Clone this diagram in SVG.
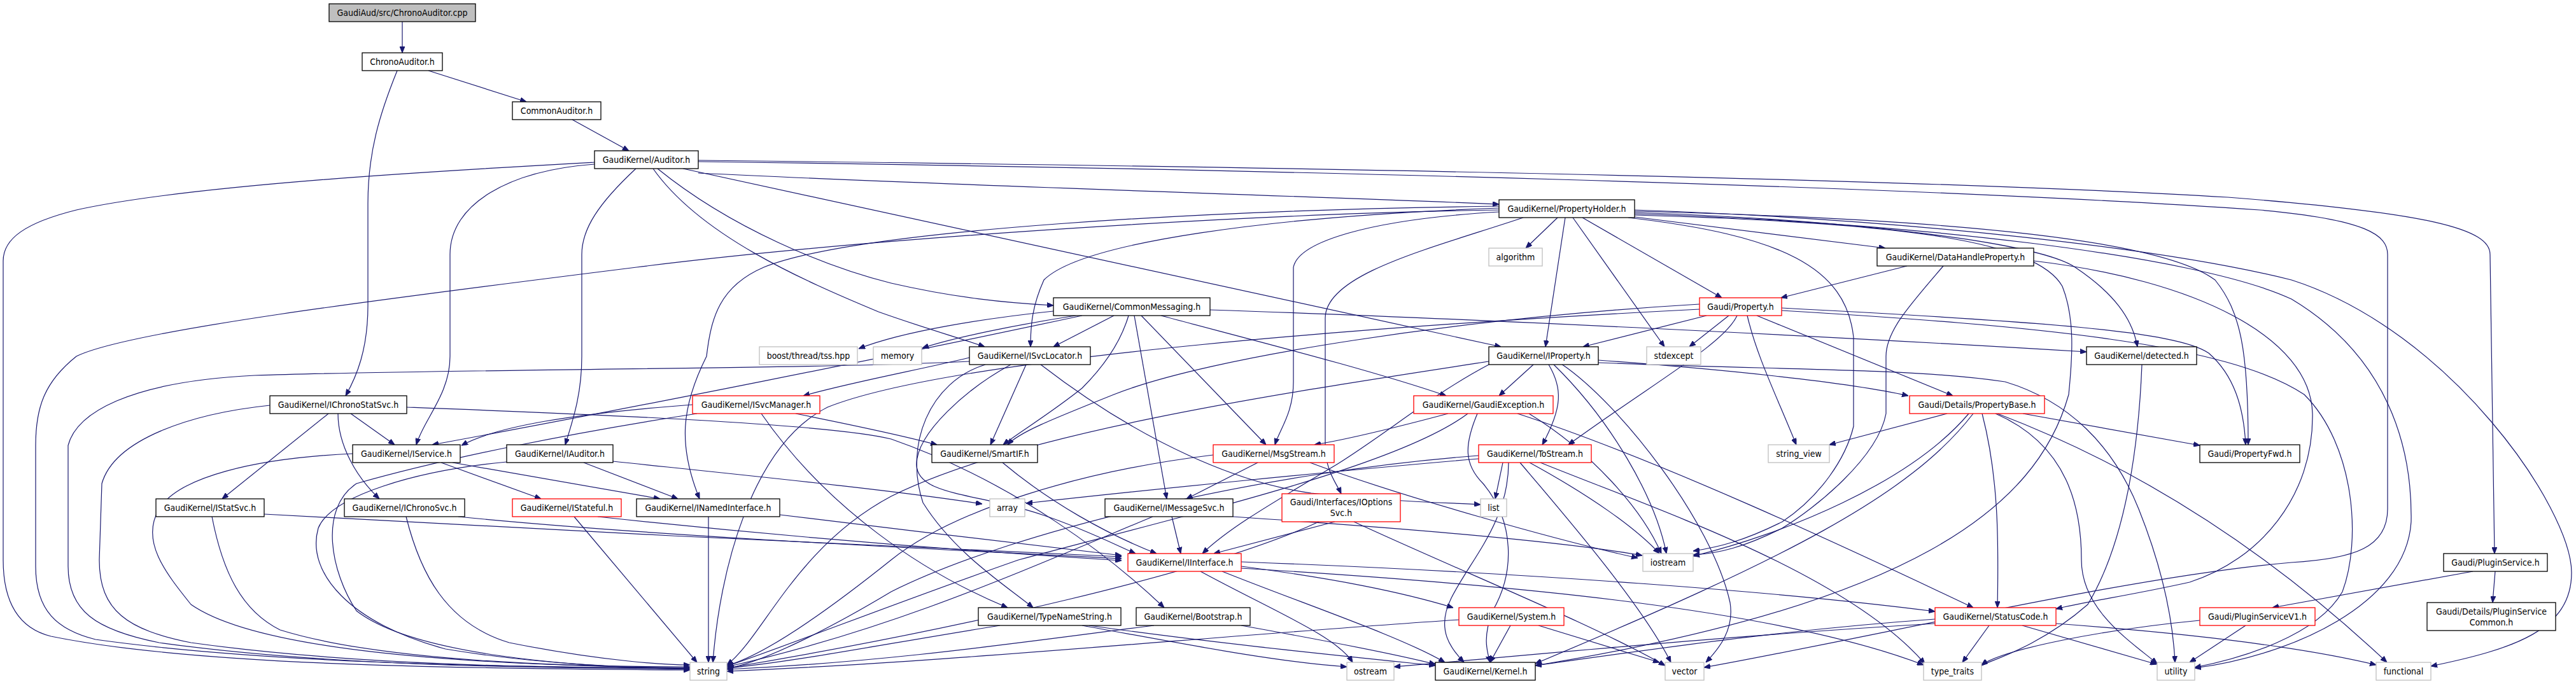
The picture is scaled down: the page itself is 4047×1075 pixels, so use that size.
<svg xmlns="http://www.w3.org/2000/svg" width="4047" height="1075" viewBox="0 0 4047 1075">
<style>
.n rect{fill:#fff;stroke:#000;stroke-width:1.3}
.r rect{fill:#fff;stroke:#ff0000;stroke-width:1.3}
.g rect{fill:#fff;stroke:#bfbfbf;stroke-width:1.3}
.f rect{fill:#bfbfbf;stroke:#000;stroke-width:1.3}
text{font-family:"DejaVu Sans Condensed","DejaVu Sans",sans-serif;font-size:14px;fill:#000;text-anchor:middle}
#edges path{fill:none;stroke:#191970;stroke-width:1.2;marker-end:url(#a)}
</style>
<defs>
<marker id="a" viewBox="0 0 10 8" refX="10" refY="4" markerWidth="10" markerHeight="8" markerUnits="userSpaceOnUse" orient="auto"><path d="M0,0 L10,4 L0,8 z" fill="#191970" stroke="#191970"/></marker>
</defs>
<rect width="4047" height="1075" fill="#fff"/>
<g id="edges">
<path d="M632,34 L632,83"/>
<path d="M673,111 L827,160"/>
<path d="M624,111 C596,180 578,240 578,320 L578,480 C578,550 560,592 543,622"/>
<path d="M899,188 L988,237"/>
<path d="M934,255 C700,268 300,290 120,330 C40,350 5,375 5,410 L5,880 C5,960 40,990 80,1000 C300,1045 700,1051 1084,1053"/>
<path d="M934,258 C800,268 707,320 707,400 L707,560 C707,620 665,660 654,699"/>
<path d="M999,265 C940,320 914,360 914,400 L914,560 C914,620 900,660 888,699"/>
<path d="M1026,265 C1100,370 1260,440 1380,490 C1450,515 1510,532 1547,545"/>
<path d="M1033,265 C1150,360 1300,420 1400,445 C1500,468 1580,476 1655,480"/>
<path d="M1073,265 L2358,545"/>
<path d="M1097,272 C1500,292 2000,306 2355,321"/>
<path d="M1097,252 C2000,262 3000,280 3500,310 C3820,335 3912,360 3912,400 L3919,870"/>
<path d="M1097,254 C2000,266 3000,292 3550,330 C3720,345 3751,370 3751,400 L3751,800 C3751,860 3700,878 3600,884 C3350,905 2950,1000 2677,1049"/>
<path d="M2355,330 C2000,335 1400,370 1000,420 C600,470 200,520 120,560 C70,600 56,640 56,700 L56,890 C56,960 90,990 150,1005 C400,1040 750,1049 1084,1050"/>
<path d="M2447,342 L2397,390"/>
<path d="M2459,342 L2428,545"/>
<path d="M2471,342 L2615,545"/>
<path d="M2486,342 L2705,468"/>
<path d="M2393,342 C2250,390 2082,430 2082,500 L2082,700 C2082,740 2100,760 2107,776"/>
<path d="M2568,341 L2962,390"/>
<path d="M2568,334 C2900,345 3200,380 3260,420 C3320,460 3350,500 3358,545"/>
<path d="M2568,330 C3000,345 3400,390 3600,440 C3850,520 4040,800 4040,900 C4040,990 3950,1020 3819,1047"/>
<path d="M2355,327 C2000,340 1700,380 1640,440 C1622,480 1619,510 1619,545"/>
<path d="M2355,333 C2150,345 2040,380 2032,420 L2032,600 C2032,650 2010,675 2003,699"/>
<path d="M2355,324 C1900,330 1350,360 1200,420 C1130,450 1117,500 1110,560 C1070,640 1065,700 1099,784"/>
<path d="M2568,332 C3100,345 3400,380 3480,440 C3520,490 3532,550 3532,699"/>
<path d="M2568,336 C3000,350 3450,400 3600,470 C3750,560 3790,700 3788,820 C3780,950 3600,1030 3448,1050"/>
<path d="M2558,342 C2800,370 2900,420 2912,530 L2912,670 C2900,720 2860,780 2800,820 C2740,850 2700,860 2660,866"/>
<path d="M2568,338 C3000,350 3200,380 3240,450 C3260,500 3256,560 3250,620 C3200,800 3000,950 2412,1046"/>
<path d="M2996,418 L2798,468"/>
<path d="M3053,418 C3000,480 2963,520 2963,560 L2963,650 C2950,720 2850,800 2800,830 C2740,860 2700,870 2660,872"/>
<path d="M3195,410 C3450,440 3630,530 3633,650 C3635,780 3550,880 3440,915 C3350,935 3280,945 3230,957"/>
<path d="M2670,478 C2300,500 1900,560 1750,620 C1650,660 1600,680 1583,699"/>
<path d="M2716,496 L2654,545"/>
<path d="M2681,496 L2487,545"/>
<path d="M2729,496 C2709,540 2600,600 2464,699"/>
<path d="M2745,496 C2760,560 2790,620 2822,699"/>
<path d="M2760,496 L3068,622"/>
<path d="M2799,484 C3200,505 3420,520 3470,555 C3510,590 3525,640 3528,699"/>
<path d="M2799,488 C3200,512 3500,540 3620,620 C3700,700 3710,850 3680,930 C3640,1000 3520,1035 3448,1049"/>
<path d="M2670,486 C2200,510 1500,560 1300,640 C1180,700 1130,900 1120,1041"/>
<path d="M1655,489 C1550,500 1420,520 1349,548"/>
<path d="M1690,496 C1600,510 1500,530 1449,547"/>
<path d="M1750,496 L1655,545"/>
<path d="M1773,496 C1760,540 1730,580 1700,610 C1650,650 1600,680 1576,699"/>
<path d="M1782,496 L1833,784"/>
<path d="M1793,496 L1989,699"/>
<path d="M1824,496 C1950,530 2150,580 2272,622"/>
<path d="M1901,487 C2300,500 2900,530 3278,553"/>
<path d="M1700,496 C1400,560 1000,640 679,699"/>
<path d="M1612,573 L1556,699"/>
<path d="M1588,573 C1520,610 1440,680 1440,730 C1440,780 1540,775 1640,810 C1700,830 1750,855 1784,870"/>
<path d="M1548,573 C1460,600 1420,700 1450,790 C1500,870 1580,920 1623,955"/>
<path d="M1635,573 C1800,700 1950,760 2060,775 C2200,790 2280,790 2326,793"/>
<path d="M1523,568 C1300,580 700,580 400,590 C200,600 120,650 107,700 L107,890 C107,960 150,990 250,1010 C500,1045 800,1050 1084,1051"/>
<path d="M1523,562 C1450,580 1340,600 1262,622"/>
<path d="M2409,573 L2355,622"/>
<path d="M2433,573 C2455,610 2455,640 2423,699"/>
<path d="M2441,573 C2530,660 2600,780 2618,870"/>
<path d="M2453,572 C2545,634 2690,820 2718,947 C2725,990 2700,1020 2680,1041"/>
<path d="M2339,573 C2250,620 2180,680 2100,730 C2000,790 1930,830 1889,870"/>
<path d="M2511,570 C2800,582 3000,578 3150,600 C3250,630 3320,700 3360,800 C3400,900 3414,980 3417,1041"/>
<path d="M2339,568 C2000,620 1600,680 1400,780 C1250,860 1200,1000 1142,1045"/>
<path d="M2511,566 C2700,580 2900,600 2998,622"/>
<path d="M424,637 C300,650 180,690 160,760 L156,880 C156,960 200,990 300,1010 C550,1045 850,1050 1084,1050"/>
<path d="M516,650 L349,784"/>
<path d="M531,650 C531,700 560,750 596,784"/>
<path d="M551,650 L620,699"/>
<path d="M639,640 C900,650 1300,665 1400,690 C1600,760 1750,880 1829,955"/>
<path d="M1088,636 C900,650 780,670 725,700"/>
<path d="M1095,650 C900,680 700,720 560,760 C500,800 520,900 560,960 C650,1030 900,1048 1084,1052"/>
<path d="M1250,650 C1350,670 1420,685 1472,699"/>
<path d="M1196,650 C1300,800 1450,900 1583,955"/>
<path d="M554,713 C400,720 280,750 250,800 C220,850 260,900 300,950 C400,1020 700,1045 1084,1050"/>
<path d="M693,727 L850,784"/>
<path d="M711,727 L1037,784"/>
<path d="M917,727 L1065,784"/>
<path d="M963,725 C1200,750 1400,770 1543,792"/>
<path d="M796,726 C650,740 520,780 500,830 C480,900 550,980 700,1020 C850,1045 1000,1050 1084,1050"/>
<path d="M333,812 C350,900 380,960 440,990 C600,1040 900,1048 1084,1048"/>
<path d="M415,808 C800,830 1400,860 1762,875"/>
<path d="M638,812 C660,900 700,980 800,1010 C950,1040 1050,1045 1084,1045"/>
<path d="M720,812 C1000,840 1400,860 1762,878"/>
<path d="M902,812 L1095,1041"/>
<path d="M939,812 C1200,840 1500,865 1762,881"/>
<path d="M1113,812 L1113,1041"/>
<path d="M1225,809 C1400,830 1600,855 1762,873"/>
<path d="M1575,727 C1650,790 1740,840 1817,870"/>
<path d="M1841,812 L1855,870"/>
<path d="M1811,812 C1600,900 1400,990 1142,1048"/>
<path d="M1937,812 C2200,830 2450,850 2580,873"/>
<path d="M1976,727 L1864,784"/>
<path d="M1906,715 C1700,740 1500,800 1400,880 C1300,960 1200,1030 1142,1046"/>
<path d="M2058,727 C2200,780 2450,850 2573,877"/>
<path d="M2097,820 L1907,870"/>
<path d="M2072,820 C1900,900 1500,990 1142,1050"/>
<path d="M2127,820 C2300,900 2500,980 2616,1046"/>
<path d="M2361,727 L2349,784"/>
<path d="M2370,727 C2370,820 2310,880 2280,940 C2255,990 2280,1020 2300,1041"/>
<path d="M2388,727 C2450,800 2580,950 2625,1041"/>
<path d="M2403,727 C2500,780 2570,830 2607,870"/>
<path d="M2323,721 C2100,740 1800,770 1612,791"/>
<path d="M2323,716 C2000,740 1600,830 1400,930 C1300,990 1200,1040 1142,1051"/>
<path d="M2420,727 C2600,800 2900,900 3024,1043"/>
<path d="M2373,983 L2341,1041"/>
<path d="M2417,983 L2607,1041"/>
<path d="M2292,974 C1900,1000 1500,1040 1142,1055"/>
<path d="M1571,983 C1400,1010 1250,1040 1142,1050"/>
<path d="M1711,983 C1900,1010 2100,1030 2255,1046"/>
<path d="M1700,983 C1850,1010 2000,1040 2116,1048"/>
<path d="M1813,983 C1600,1010 1400,1040 1142,1052"/>
<path d="M1950,983 C2100,1010 2200,1030 2255,1044"/>
<path d="M1920,898 C2050,950 2200,1000 2270,1041"/>
<path d="M1950,883 C2400,900 2800,930 3040,961"/>
<path d="M1950,890 C2100,910 2200,930 2283,955"/>
<path d="M1886,898 C2000,960 2100,1000 2125,1041"/>
<path d="M1950,893 C2400,920 2800,960 3022,1045"/>
<path d="M3125,983 L3083,1041"/>
<path d="M3177,983 L3388,1044"/>
<path d="M3230,980 C3500,1000 3650,1025 3733,1045"/>
<path d="M3040,973 C2800,990 2600,1020 2412,1046"/>
<path d="M3040,980 C2700,1000 2400,1030 2190,1048"/>
<path d="M3365,573 C3360,700 3340,850 3280,950 C3200,1020 3120,1040 3113,1046"/>
<path d="M3059,650 L2874,699"/>
<path d="M3114,650 C3140,750 3140,850 3138,955"/>
<path d="M3135,650 C3250,700 3270,800 3270,880 C3270,960 3350,1010 3389,1043"/>
<path d="M3138,650 C3400,750 3600,900 3750,1041"/>
<path d="M3178,650 L3456,700"/>
<path d="M3093,650 C3000,760 2800,840 2660,874"/>
<path d="M3100,650 C3000,780 2800,880 2412,1043"/>
<path d="M3885,898 L3570,955"/>
<path d="M3920,898 L3916,947"/>
<path d="M3528,983 L3440,1041"/>
<path d="M3456,975 C3300,990 3150,1020 3113,1045"/>
<path d="M2275,650 C2200,670 2120,690 2065,699"/>
<path d="M2384,650 C2600,720 2900,860 3100,955"/>
<path d="M2402,650 C2500,710 2580,800 2610,870"/>
<path d="M2306,650 C2200,730 1900,800 1600,880 C1400,950 1250,1010 1142,1047"/>
<path d="M2321,650 C2300,700 2300,730 2330,760 C2380,820 2380,900 2345,960 C2330,1000 2335,1020 2341,1041"/>
</g>
<g id="n0" class="f"><rect x="517" y="6" width="230" height="28"/><text x="632" y="25">GaudiAud/src/ChronoAuditor.cpp</text></g>
<g id="n1" class="n"><rect x="569" y="83" width="126" height="28"/><text x="632" y="102">ChronoAuditor.h</text></g>
<g id="n2" class="n"><rect x="805" y="160" width="139" height="28"/><text x="874.5" y="179">CommonAuditor.h</text></g>
<g id="n3" class="n"><rect x="934" y="237" width="163" height="28"/><text x="1015.5" y="256">GaudiKernel/Auditor.h</text></g>
<g id="n4" class="n"><rect x="2355" y="314" width="213" height="28"/><text x="2461.5" y="333">GaudiKernel/PropertyHolder.h</text></g>
<g id="n5" class="g"><rect x="2339" y="390" width="84" height="28"/><text x="2381" y="409">algorithm</text></g>
<g id="n6" class="n"><rect x="2949" y="390" width="246" height="28"/><text x="3072" y="409">GaudiKernel/DataHandleProperty.h</text></g>
<g id="n7" class="r"><rect x="2670" y="468" width="129" height="28"/><text x="2734.5" y="487">Gaudi/Property.h</text></g>
<g id="n8" class="n"><rect x="1655" y="468" width="246" height="28"/><text x="1778" y="487">GaudiKernel/CommonMessaging.h</text></g>
<g id="n9" class="g"><rect x="1193" y="545" width="154" height="28"/><text x="1270" y="564">boost/thread/tss.hpp</text></g>
<g id="n10" class="g"><rect x="1372" y="545" width="76" height="28"/><text x="1410" y="564">memory</text></g>
<g id="n11" class="n"><rect x="1523" y="545" width="190" height="28"/><text x="1618" y="564">GaudiKernel/ISvcLocator.h</text></g>
<g id="n12" class="n"><rect x="2339" y="545" width="172" height="28"/><text x="2425" y="564">GaudiKernel/IProperty.h</text></g>
<g id="n13" class="g"><rect x="2587" y="545" width="85" height="28"/><text x="2629.5" y="564">stdexcept</text></g>
<g id="n14" class="n"><rect x="3278" y="545" width="173" height="28"/><text x="3364.5" y="564">GaudiKernel/detected.h</text></g>
<g id="n15" class="n"><rect x="424" y="622" width="215" height="28"/><text x="531.5" y="641">GaudiKernel/IChronoStatSvc.h</text></g>
<g id="n16" class="r"><rect x="1088" y="622" width="200" height="28"/><text x="1188" y="641">GaudiKernel/ISvcManager.h</text></g>
<g id="n17" class="r"><rect x="2221" y="622" width="219" height="28"/><text x="2330.5" y="641">GaudiKernel/GaudiException.h</text></g>
<g id="n18" class="r"><rect x="3000" y="622" width="212" height="28"/><text x="3106" y="641">Gaudi/Details/PropertyBase.h</text></g>
<g id="n19" class="n"><rect x="554" y="699" width="169" height="28"/><text x="638.5" y="718">GaudiKernel/IService.h</text></g>
<g id="n20" class="n"><rect x="796" y="699" width="167" height="28"/><text x="879.5" y="718">GaudiKernel/IAuditor.h</text></g>
<g id="n21" class="n"><rect x="1464" y="699" width="166" height="28"/><text x="1547" y="718">GaudiKernel/SmartIF.h</text></g>
<g id="n22" class="r"><rect x="1906" y="699" width="190" height="28"/><text x="2001" y="718">GaudiKernel/MsgStream.h</text></g>
<g id="n23" class="r"><rect x="2323" y="699" width="177" height="28"/><text x="2411.5" y="718">GaudiKernel/ToStream.h</text></g>
<g id="n24" class="g"><rect x="2778" y="699" width="96" height="28"/><text x="2826" y="718">string_view</text></g>
<g id="n25" class="n"><rect x="3456" y="699" width="157" height="28"/><text x="3534.5" y="718">Gaudi/PropertyFwd.h</text></g>
<g id="n26" class="n"><rect x="245" y="784" width="170" height="28"/><text x="330" y="803">GaudiKernel/IStatSvc.h</text></g>
<g id="n27" class="n"><rect x="541" y="784" width="189" height="28"/><text x="635.5" y="803">GaudiKernel/IChronoSvc.h</text></g>
<g id="n28" class="r"><rect x="805" y="784" width="171" height="28"/><text x="890.5" y="803">GaudiKernel/IStateful.h</text></g>
<g id="n29" class="n"><rect x="1000" y="784" width="225" height="28"/><text x="1112.5" y="803">GaudiKernel/INamedInterface.h</text></g>
<g id="n30" class="g"><rect x="1555" y="784" width="55" height="28"/><text x="1582.5" y="803">array</text></g>
<g id="n31" class="n"><rect x="1736" y="784" width="201" height="28"/><text x="1836.5" y="803">GaudiKernel/IMessageSvc.h</text></g>
<g id="n32" class="r"><rect x="2014" y="776" width="186" height="44"/><text x="2107" y="794">Gaudi/Interfaces/IOptions</text><text x="2107" y="811">Svc.h</text></g>
<g id="n33" class="g"><rect x="2326" y="784" width="41" height="28"/><text x="2346.5" y="803">list</text></g>
<g id="n34" class="r"><rect x="1772" y="870" width="178" height="28"/><text x="1861" y="889">GaudiKernel/IInterface.h</text></g>
<g id="n35" class="g"><rect x="2581" y="870" width="79" height="28"/><text x="2620.5" y="889">iostream</text></g>
<g id="n36" class="n"><rect x="3839" y="870" width="163" height="28"/><text x="3920.5" y="889">Gaudi/PluginService.h</text></g>
<g id="n37" class="n"><rect x="1537" y="955" width="224" height="28"/><text x="1649" y="974">GaudiKernel/TypeNameString.h</text></g>
<g id="n38" class="n"><rect x="1785" y="955" width="179" height="28"/><text x="1874.5" y="974">GaudiKernel/Bootstrap.h</text></g>
<g id="n39" class="r"><rect x="2292" y="955" width="165" height="28"/><text x="2374.5" y="974">GaudiKernel/System.h</text></g>
<g id="n40" class="r"><rect x="3040" y="955" width="190" height="28"/><text x="3135" y="974">GaudiKernel/StatusCode.h</text></g>
<g id="n41" class="r"><rect x="3456" y="955" width="181" height="28"/><text x="3546.5" y="974">Gaudi/PluginServiceV1.h</text></g>
<g id="n42" class="n"><rect x="3813" y="947" width="202" height="44"/><text x="3914" y="966">Gaudi/Details/PluginService</text><text x="3914" y="983">Common.h</text></g>
<g id="n43" class="g"><rect x="1084" y="1041" width="58" height="28"/><text x="1113" y="1060">string</text></g>
<g id="n44" class="g"><rect x="2116" y="1041" width="74" height="28"/><text x="2153" y="1060">ostream</text></g>
<g id="n45" class="n"><rect x="2255" y="1041" width="157" height="28"/><text x="2333.5" y="1060">GaudiKernel/Kernel.h</text></g>
<g id="n46" class="g"><rect x="2616" y="1041" width="61" height="28"/><text x="2646.5" y="1060">vector</text></g>
<g id="n47" class="g"><rect x="3022" y="1041" width="91" height="28"/><text x="3067.5" y="1060">type_traits</text></g>
<g id="n48" class="g"><rect x="3389" y="1041" width="59" height="28"/><text x="3418.5" y="1060">utility</text></g>
<g id="n49" class="g"><rect x="3733" y="1041" width="86" height="28"/><text x="3776" y="1060">functional</text></g>
</svg>
